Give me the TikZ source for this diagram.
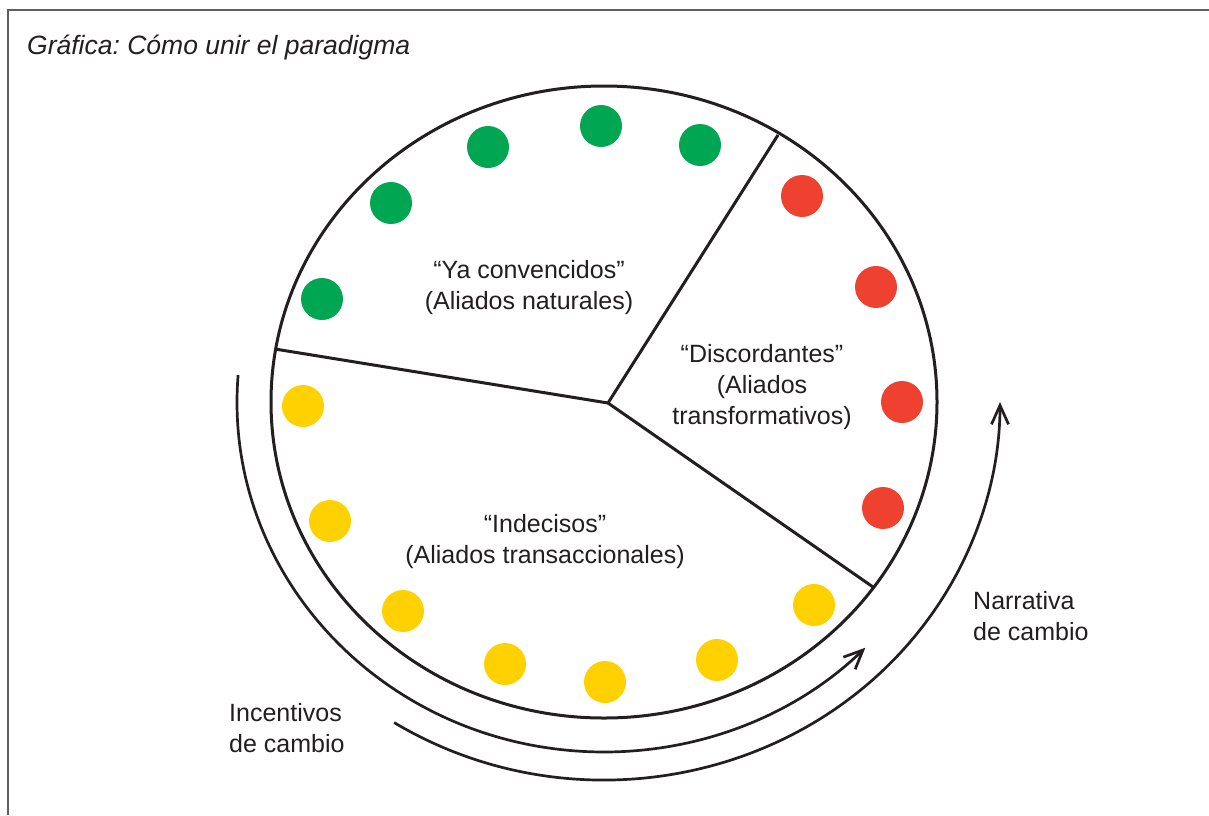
\documentclass[tikz,border=0pt]{standalone}
\usepackage{fontspec}
\setmainfont{Liberation Sans}
\usetikzlibrary{arrows.meta}
\frenchspacing
\definecolor{ink}{HTML}{231F20}
\definecolor{dotgreen}{HTML}{00A651}
\definecolor{dotred}{HTML}{EF4130}
\definecolor{dotyellow}{HTML}{FFD100}
\definecolor{framegray}{HTML}{5F5F5F}
\begin{document}
\begin{tikzpicture}[x=1pt,y=1pt,
  dot/.style={circle,inner sep=0pt,minimum size=42pt},
  gdot/.style={dot,fill=dotgreen},
  rdot/.style={dot,fill=dotred},
  ydot/.style={dot,fill=dotyellow},
  lbl/.style={text=ink,font=\fontsize{25}{31}\selectfont,inner sep=0pt,align=center},
  rim/.style={draw=ink,line width=3pt,line join=round},
  flow/.style={draw=ink,line width=2.7pt,-{Straight Barb[length=19pt,width=17pt]}},
]
\useasboundingbox (0,0) rectangle (1209,-815);
\fill[white] (0,0) rectangle (1209,-815);
\draw[framegray,line width=2pt] (7.5,-815) -- (7.5,-10) -- (1209,-10);

% title
\node[text=ink,font=\fontsize{26.5}{31}\selectfont\itshape,anchor=base west,inner sep=0pt] (title) at (27,-54) {Gráfica: Cómo unir el paradigma};

% dots
\node[gdot] (g1) at (322,-299) {};
\node[gdot] (g2) at (391,-203) {};
\node[gdot] (g3) at (488,-147) {};
\node[gdot] (g4) at (601,-126) {};
\node[gdot] (g5) at (700,-145) {};
\node[rdot] (r1) at (802,-196) {};
\node[rdot] (r2) at (876,-287) {};
\node[rdot] (r3) at (902,-402) {};
\node[rdot] (r4) at (883,-508) {};
\node[ydot] (y1) at (303,-406) {};
\node[ydot] (y2) at (330,-521) {};
\node[ydot] (y3) at (403,-611) {};
\node[ydot] (y4) at (505,-664) {};
\node[ydot] (y5) at (605,-682) {};
\node[ydot] (y6) at (717,-660) {};
\node[ydot] (y7) at (814,-605) {};

% main circle and dividers
\draw[rim] (604,-402) ellipse [x radius=333, y radius=316];
\coordinate (hub) at (608,-403);
\coordinate (pl) at (276.7,-349.3);
\coordinate (ptop) at (778,-135);
\coordinate (pr) at (873,-587);
\draw[rim] (pl) -- (hub) -- (ptop);
\draw[rim] (hub) -- (pr);

% outer arrows
\coordinate (aS) at ([shift={(604,-402)}]175.6:367 and 350);
\coordinate (bS) at ([shift={(604,-402)}]238:396 and 378);
\draw[flow] (aS) arc[start angle=175.6, end angle=315.4, x radius=367, y radius=350];
\draw[flow] (bS) arc[start angle=238, end angle=360, x radius=396, y radius=378];

% labels
\node[lbl] (ya) at (529,-287.5) {“Ya convencidos”\\(Aliados naturales)};
\node[lbl] (dis) at (762,-387.5) {“Discordantes”\\(Aliados\\transformativos)};
\node[lbl] (ind) at (545,-542) {“Indecisos”\\(Aliados transaccionales)};
\node[lbl,align=left,anchor=west] (inc) at (229,-728) {Incentivos\\de cambio};
\node[lbl,align=left,anchor=west] (nar) at (973,-616.5) {Narrativa\\de cambio};
\end{tikzpicture}
\end{document}
